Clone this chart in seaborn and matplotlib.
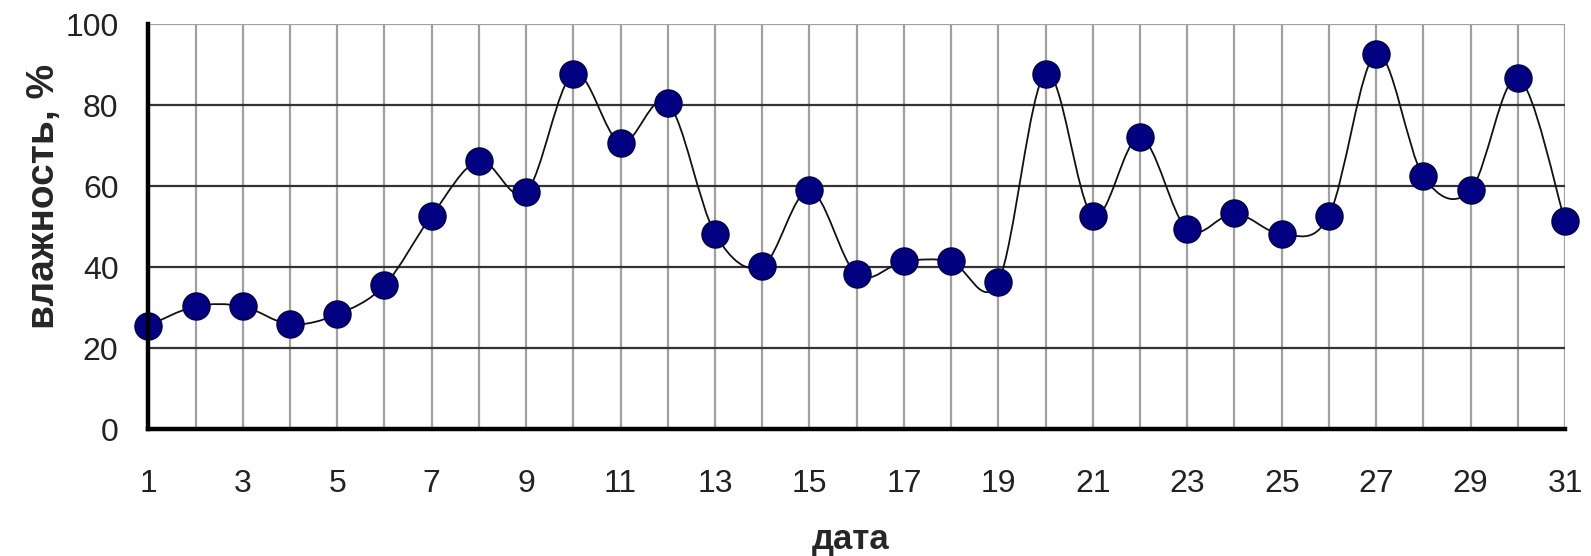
import numpy as np
import pandas as pd
import seaborn as sns
import matplotlib
matplotlib.use('Agg')
import matplotlib.pyplot as plt
from matplotlib.path import Path
from matplotlib.patches import PathPatch

# data
days = list(range(1, 32))
humidity = [25.5, 30.3, 30.3, 25.9, 28.3, 35.5, 52.7, 66.3, 58.5, 87.8,
            70.7, 80.6, 48.3, 40.2, 59.0, 38.2, 41.4, 41.4, 36.4, 87.8,
            52.7, 72.1, 49.3, 53.3, 48.2, 52.7, 92.7, 62.4, 59.0, 86.8, 51.3]
y_ticks = [0, 20, 40, 60, 80, 100]
x_label = "дата"
y_label = "влажность, %"

df = pd.DataFrame({"day": days, "hum": humidity})

sns.set_style("white")
plt.rcParams['font.family'] = ['Liberation Sans', 'DejaVu Sans']

fig = plt.figure(figsize=(15.91, 5.56), dpi=100)
ax = fig.add_axes([0.0932, 0.2284, 0.8905, 0.7279])

# smoothed line like excel (bezier, control points from neighbours)
pts = df[["day", "hum"]].to_numpy(dtype=float)
verts = [tuple(pts[0])]
codes = [Path.MOVETO]
n = len(pts)
for i in range(n - 1):
    p0 = pts[max(i - 1, 0)]
    p1 = pts[i]
    p2 = pts[i + 1]
    p3 = pts[min(i + 2, n - 1)]
    c1 = p1 + (p2 - p0) / 6.0
    c2 = p2 - (p3 - p1) / 6.0
    verts += [tuple(c1), tuple(c2), tuple(p2)]
    codes += [Path.CURVE4] * 3
ax.add_patch(PathPatch(Path(verts, codes), facecolor='none', edgecolor='#111111',
                       lw=1.3, zorder=3))

sns.scatterplot(data=df, x="day", y="hum", ax=ax, s=380, color='#000080',
                edgecolor='#00004a', linewidth=1, marker='o', zorder=4, clip_on=False)

ax.set_xlim(1, 31)
ax.set_ylim(0, 100)

# grid
for v in days:
    ax.axvline(v, color='#a0a0a0', lw=1.6, zorder=1)
for v in y_ticks[1:-1]:
    ax.axhline(v, color='#333333', lw=1.6, zorder=1)
ax.axhline(100, color='#a0a0a0', lw=1.6, zorder=1)

for s in ['top', 'right']:
    ax.spines[s].set_visible(False)
for s in ['left', 'bottom']:
    ax.spines[s].set_linewidth(3.2)
    ax.spines[s].set_color('black')
    ax.spines[s].set_zorder(5)

ax.set_yticks(y_ticks)
ax.set_xticks(days)
ax.set_xticklabels([str(d) if d % 2 == 1 else "" for d in days])
ax.tick_params(axis='y', direction='inout', length=17, width=2.5, color='black',
               labelsize=23, labelcolor='#222222', pad=13)
ax.tick_params(axis='x', direction='inout', length=18, width=2.5, color='black',
               labelsize=23, labelcolor='#222222', pad=20)

ax.set_xlabel(x_label, fontsize=25, fontweight='bold')
ax.set_ylabel(y_label, fontsize=28, fontweight='bold')
ax.xaxis.set_label_coords(0.496, -0.233)
ax.yaxis.set_label_coords(-0.061, 0.575)

plt.savefig("out.png", dpi=100)
plt.close()
